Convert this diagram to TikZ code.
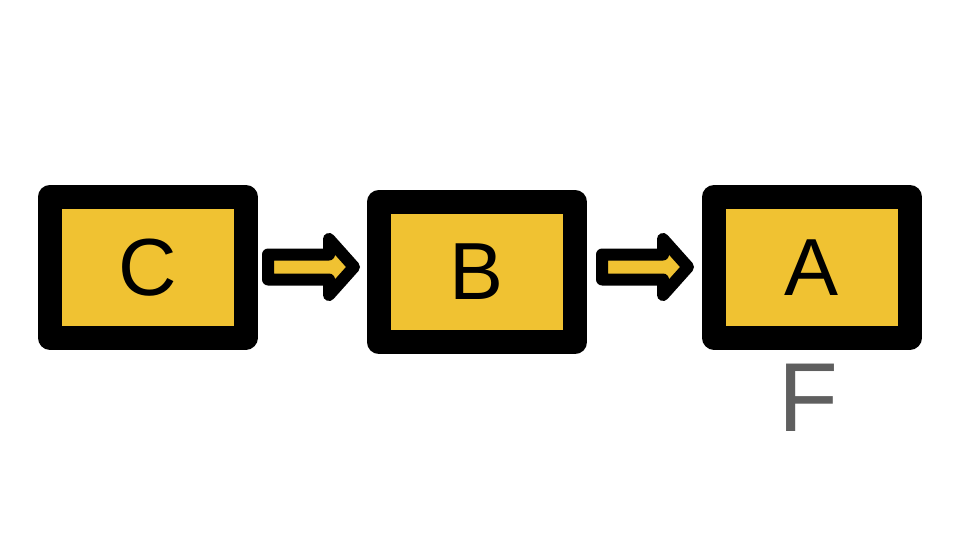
\documentclass[tikz,border=0pt]{standalone}
\usepackage{fontspec}
\setmainfont{Liberation Sans}
\usetikzlibrary{calc}
\definecolor{boxyellow}{RGB}{240,194,50}
\definecolor{labelgray}{RGB}{95,95,95}
\begin{document}
\begin{tikzpicture}[x=1pt,y=-1pt,
  box/.style={draw=black, fill=boxyellow, line width=24pt, line join=round,
    minimum width=196pt, minimum height=140.5pt, inner sep=0pt,
    font=\fontsize{81}{97}\selectfont},
  blockarrow/.style={draw=black, fill=boxyellow, line width=12pt, line join=round},
  lbl/.style={text=labelgray, inner sep=0pt, font=\fontsize{98}{118}\selectfont}]
\useasboundingbox (0,0) rectangle (960,540);
\node[box] (C) at (147.75,267.25) {C};
\node[box] (B) at (477,272) {B};
\node[box] (A) at (812,267.25) {A};
\node[lbl] (F) at (808,398) {F};
\coordinate (m1) at (312,267);
\coordinate (m2) at (646,267);
\foreach \m in {m1,m2}{
  \draw[blockarrow] ($(\m)+(-44,-12.5)$) -- ($(\m)+(17,-12.5)$) -- ($(\m)+(17,-28)$)
    -- ($(\m)+(42,0)$) -- ($(\m)+(17,28)$) -- ($(\m)+(17,12.5)$)
    -- ($(\m)+(-44,12.5)$) -- cycle;
}
\end{tikzpicture}
\end{document}
